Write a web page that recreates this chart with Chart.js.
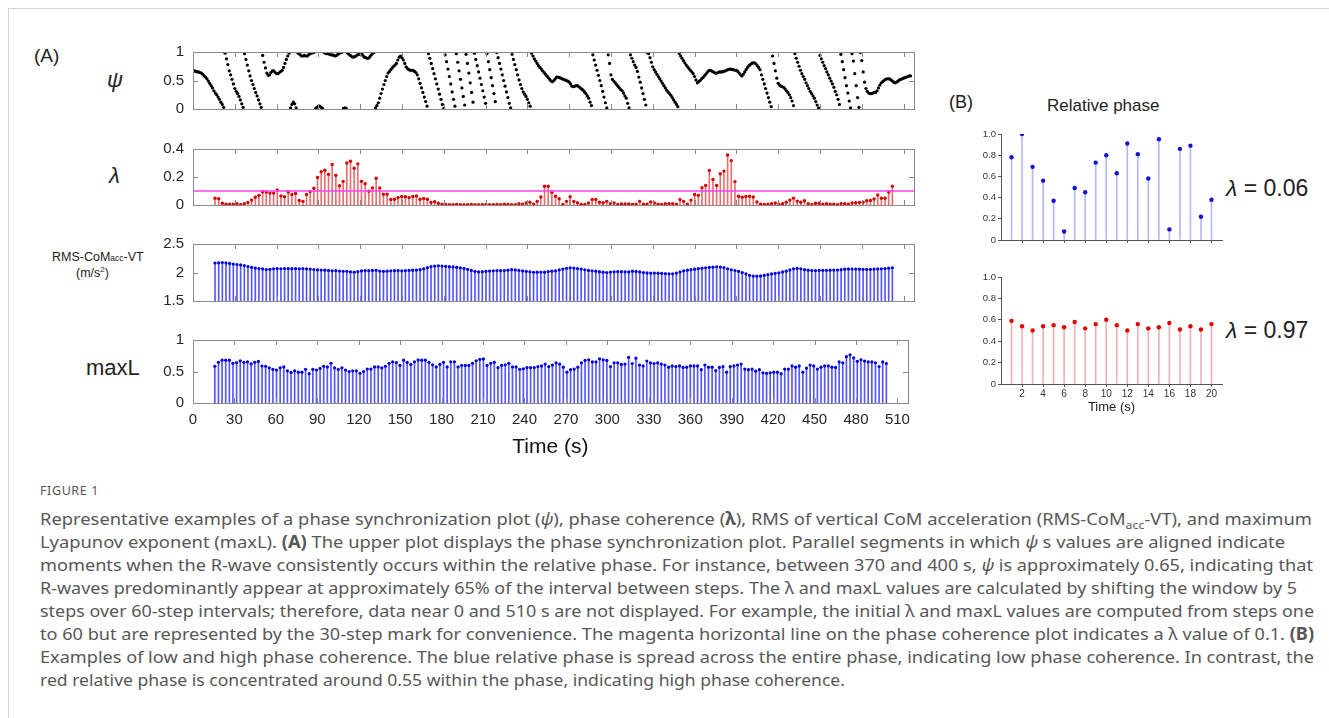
<!DOCTYPE html>
<html>
<head>
<meta charset="utf-8">
<script src="https://cdn.jsdelivr.net/npm/chart.js@4.4.1/dist/chart.umd.min.js"></script>
<style>
  html, body { margin: 0; padding: 0; background: #fff; }
  body { width: 1329px; height: 718px; position: relative; overflow: hidden;
         font-family: "Liberation Sans", Arial, sans-serif; color: #222; }
  .frame { position: absolute; left: 8px; top: 8px; right: -2px; bottom: -2px;
           border-left: 1px solid #d6d6d6; border-top: 1px solid #d6d6d6; }
  canvas { position: absolute; }
  .lbl { position: absolute; white-space: nowrap; line-height: 1; }
  .cap-head { position: absolute; left: 40px; top: 482px; font: 12.5px "Noto Sans", sans-serif;
              letter-spacing: 0.6px; color: #555; }
  .cap { position: absolute; left: 40px; top: 507px; font: 17px/23px "Noto Sans", sans-serif;
         color: #575757; white-space: nowrap; }
  .cap .ln { width: max-content; height: 23px; transform-origin: 0 0; }
  .cap sub { font-size: 11.5px; line-height: 0; }
</style>
</head>
<body>
<div class="frame"></div>

<div class="lbl" style="left:34px;top:46px;font-size:19px;">(A)</div>
<div class="lbl" style="left:107px;top:69px;font-size:22px;font-style:italic;">ψ</div>
<div class="lbl" style="left:109px;top:165px;font-size:22px;font-style:italic;">λ</div>
<div class="lbl" style="left:52px;top:251px;font-size:12.5px;">RMS-CoM<span style="font-size:8.5px">acc</span>-VT</div>
<div class="lbl" style="left:76px;top:266px;font-size:12.5px;">(m/s<sup style="font-size:8px">2</sup>)</div>
<div class="lbl" style="left:86px;top:357px;font-size:22px;">maxL</div>

<div class="lbl" style="left:949px;top:93px;font-size:18px;">(B)</div>
<div class="lbl" style="left:1047px;top:97px;font-size:17px;">Relative phase</div>
<div class="lbl" style="left:1226px;top:177px;font-size:23px;"><i>λ</i> = 0.06</div>
<div class="lbl" style="left:1226px;top:319px;font-size:23px;"><i>λ</i> = 0.97</div>

<canvas id="cPsi" width="768" height="93" style="left:150px;top:34px;"></canvas>
<canvas id="cLam" width="768" height="92" style="left:150px;top:131px;"></canvas>
<canvas id="cRms" width="768" height="93" style="left:150px;top:226px;"></canvas>
<canvas id="cMax" width="768" height="138" style="left:150px;top:322px;"></canvas>
<canvas id="cLow" width="257" height="130" style="left:971px;top:124px;"></canvas>
<canvas id="cHigh" width="257" height="148" style="left:971px;top:267px;"></canvas>

<div class="cap-head">FIGURE 1</div>
<div class="cap">
<div class="ln" data-w="1272">Representative examples of a phase synchronization plot (<i>ψ</i>), phase coherence (<b>λ</b>), RMS of vertical CoM acceleration (RMS-CoM<sub>acc</sub>-VT), and maximum</div>
<div class="ln" data-w="1245">Lyapunov exponent (maxL). <b>(A)</b> The upper plot displays the phase synchronization plot. Parallel segments in which <i>ψ</i> s values are aligned indicate</div>
<div class="ln" data-w="1273">moments when the R-wave consistently occurs within the relative phase. For instance, between 370 and 400 s, <i>ψ</i> is approximately 0.65, indicating that</div>
<div class="ln" data-w="1257">R-waves predominantly appear at approximately 65% of the interval between steps. The λ and maxL values are calculated by shifting the window by 5</div>
<div class="ln" data-w="1274">steps over 60-step intervals; therefore, data near 0 and 510 s are not displayed. For example, the initial λ and maxL values are computed from steps one</div>
<div class="ln" data-w="1274">to 60 but are represented by the 30-step mark for convenience. The magenta horizontal line on the phase coherence plot indicates a λ value of 0.1. <b>(B)</b></div>
<div class="ln" data-w="1274">Examples of low and high phase coherence. The blue relative phase is spread across the entire phase, indicating low phase coherence. In contrast, the</div>
<div class="ln" data-w="805">red relative phase is concentrated around 0.55 within the phase, indicating high phase coherence.</div>
</div>

<script>
// ---- axis ticks ----
const A_XTICKS = [0, 30, 60, 90, 120, 150, 180, 210, 240, 270, 300, 330, 360, 390, 420, 450, 480, 510];
const A_XMAX = 517.5;
const PSI_YTICKS = [0, 0.5, 1];
const LAM_YTICKS = [0, 0.2, 0.4];
const RMS_YTICKS = [1.5, 2, 2.5];
const MAXL_YTICKS = [0, 0.5, 1];
const B_YTICKS = [0, 0.2, 0.4, 0.6, 0.8, 1.0];
const B_XTICKS = [2, 4, 6, 8, 10, 12, 14, 16, 18, 20];
const LAMBDA_LIMIT = 0.1;

// ---- (A) phase synchronization, one value per second from t = 0 s ----
const PSI = [
  0.68,0.67,0.66,0.65,0.65,0.64,0.63,0.61,0.58,0.56,0.53,0.49,0.45,0.41,0.37,0.32,0.28,0.25,0.21,0.17,0.12,0.08,0.03,
  0.98,0.88,0.78,0.67,0.60,0.52,0.44,0.36,0.31,0.27,0.22,0.16,0.09,0.03,
  0.97,0.87,0.77,0.67,0.58,0.50,0.43,0.36,0.29,0.23,0.16,0.09,0.03,
  0.94,0.82,0.72,0.63,0.59,0.60,0.64,0.67,0.67,0.64,0.62,0.62,0.64,0.66,0.68,0.73,0.80,0.87,0.93,0.98,
  0.02,0.08,0.12,0.09,0.02,
  0.99,0.97,0.95,0.93,0.93,0.94,0.93,0.93,0.95,0.97,0.98,0.99,0.995,
  0.01,0.03,0.05,0.05,0.03,0.01,
  0.99,0.98,0.97,0.97,0.96,0.95,0.95,0.94,0.93,0.94,0.96,0.98,0.99,0.995,
  0.01,0.02,0.01,
  0.98,0.96,0.94,0.92,0.91,0.92,0.93,0.95,0.96,0.97,0.97,0.94,0.91,0.90,0.89,0.89,0.92,0.95,0.98,0.995,
  0.02,0.06,0.11,0.19,0.27,0.35,0.43,0.50,0.57,0.63,0.66,0.69,0.72,0.75,0.77,0.80,0.86,0.91,0.93,0.90,
  0.86,0.80,0.74,0.71,0.69,0.68,0.68,0.68,0.66,0.64,0.60,0.53,0.45,0.37,0.29,0.21,0.13,0.05,
  0.97,0.89,0.80,0.71,0.62,0.53,0.44,0.35,0.26,0.17,0.08,0.01,
  0.95,0.83,0.70,0.57,0.44,0.30,0.17,0.05,
  0.97,0.82,0.67,0.52,0.37,0.22,0.07,
  0.96,0.80,0.63,0.46,0.29,0.12,
  0.98,0.87,0.76,0.65,0.54,0.43,0.32,0.21,0.10,
  0.97,0.83,0.69,0.55,0.41,0.27,0.13,
  0.99,0.90,0.80,0.70,0.60,0.50,0.40,0.30,0.20,0.10,0.02,
  0.96,0.87,0.78,0.69,0.60,0.51,0.43,0.36,0.30,0.26,0.22,0.17,0.11,0.05,
  0.98,0.93,0.88,0.84,0.80,0.76,0.73,0.70,0.67,0.64,0.61,0.58,0.55,0.52,0.49,0.48,0.50,0.53,0.56,0.56,0.55,0.54,
  0.53,0.52,0.51,0.50,0.49,0.47,0.44,0.40,0.39,0.40,0.41,0.41,0.39,0.37,0.35,0.33,0.30,0.27,0.23,0.19,0.12,0.06,
  0.95,0.86,0.77,0.68,0.59,0.50,0.41,0.31,0.21,0.11,0.02,
  0.95,0.80,0.60,0.52,0.49,0.46,0.43,0.40,0.37,0.34,0.32,0.28,0.23,0.19,0.10,0.02,
  0.95,0.89,0.83,0.77,0.73,0.66,0.56,0.47,0.37,0.27,0.17,0.07,
  0.99,0.97,0.90,0.82,0.74,0.69,0.65,0.61,0.57,0.53,0.49,0.45,0.41,0.37,0.33,0.30,0.27,0.24,0.20,0.16,0.12,0.08,0.04,
  0.97,0.93,0.89,0.85,0.81,0.77,0.74,0.71,0.68,0.65,0.62,0.57,0.51,0.46,0.48,0.50,0.53,0.55,0.58,0.61,
  0.64,0.67,0.68,0.67,0.66,0.64,0.63,0.63,0.64,0.65,0.65,0.65,0.66,0.67,0.68,0.69,0.70,0.70,0.69,0.69,
  0.68,0.68,0.66,0.63,0.60,0.58,0.61,0.65,0.69,0.73,0.76,0.78,0.80,0.81,0.81,0.79,0.76,0.73,0.69,0.60,
  0.52,0.44,0.36,0.28,0.20,0.12,0.04,
  0.93,0.80,0.67,0.54,0.45,0.42,0.40,0.39,0.38,0.35,0.32,0.29,0.25,0.20,0.14,0.06,
  0.97,0.89,0.82,0.75,0.68,0.62,0.57,0.52,0.46,0.41,0.36,0.31,0.27,0.23,0.19,0.13,0.07,0.02,
  0.94,0.88,0.82,0.76,0.71,0.65,0.60,0.54,0.49,0.44,0.38,0.31,0.25,0.17,0.08,
  0.96,0.83,0.69,0.55,0.41,0.28,0.14,0.02,
  0.97,0.84,0.62,0.41,0.20,0.03,
  0.99,0.85,0.65,0.47,0.36,0.31,0.28,0.27,0.27,0.28,0.29,0.29,0.32,0.37,0.42,0.46,0.48,0.50,0.52,0.53,
  0.53,0.53,0.51,0.49,0.47,0.46,0.47,0.49,0.51,0.52,0.53,0.54,0.55,0.56,0.57,0.58,0.58
];

// ---- windowed measures: 60-step windows shifted by 5 steps ----
const WINDOW_START = 15.8;   // s, centre of the first window
const WINDOW_SHIFT = 2.628;  // s between windows

const LAMBDA = [
  .049,.045,.012,.006,.006,.006,.010,.003,.010,.018,.035,.055,.069,.095,.093,.085,.085,.108,.065,.059,
  .093,.075,.083,.033,.026,.075,.097,.120,.197,.238,.248,.219,.290,.213,.138,.169,.300,.313,.262,.294,
  .169,.152,.099,.122,.191,.122,.077,.077,.039,.041,.053,.061,.059,.053,.061,.065,.041,.047,.041,.018,
  .024,.012,.006,.004,.002,.003,.004,.002,.003,.002,.004,.003,.002,.003,.004,.002,.003,.004,.003,.005,
  .004,.002,.003,.010,.006,.014,.020,.006,.026,.057,.134,.134,.091,.063,.045,.004,.026,.059,.026,.016,
  .004,.004,.014,.039,.039,.020,.016,.026,.010,.014,.004,.008,.008,.008,.004,.006,.026,.006,.006,.022,
  .014,.006,.004,.010,.010,.010,.006,.039,.026,.006,.035,.075,.069,.124,.140,.246,.183,.140,.223,.242,
  .357,.317,.167,.063,.055,.061,.063,.057,.022,.006,.004,.006,.010,.014,.006,.010,.020,.035,.049,.028,
  .020,.030,.010,.002,.012,.012,.006,.010,.006,.006,.002,.010,.010,.006,.014,.016,.018,.020,.030,.032,
  .043,.071,.049,.049,.093,.134
];

const RMS = [
  2.167,2.170,2.175,2.168,2.160,2.148,2.140,2.133,2.122,2.105,2.090,2.078,2.070,2.062,2.052,2.056,2.066,2.068,2.066,2.068,
  2.069,2.067,2.069,2.066,2.068,2.064,2.060,2.052,2.045,2.043,2.040,2.036,2.030,2.032,2.026,2.022,2.020,2.012,2.006,2.016,
  2.028,2.034,2.032,2.036,2.038,2.026,2.020,2.024,2.030,2.032,2.033,2.030,2.034,2.036,2.040,2.042,2.050,2.065,2.085,2.104,
  2.112,2.118,2.114,2.108,2.102,2.098,2.090,2.082,2.072,2.055,2.036,2.020,2.010,2.014,2.020,2.026,2.030,2.034,2.032,2.035,
  2.040,2.050,2.046,2.036,2.028,2.020,2.012,2.004,2.005,2.008,2.006,2.016,2.024,2.030,2.045,2.060,2.075,2.083,2.078,2.070,
  2.060,2.048,2.036,2.030,2.024,2.014,2.006,2.000,2.008,2.012,2.014,2.015,2.012,2.010,2.024,2.018,2.010,1.998,1.992,1.990,
  1.990,1.988,1.985,1.980,1.977,1.976,1.990,2.010,2.030,2.040,2.049,2.058,2.068,2.076,2.083,2.090,2.094,2.100,2.096,2.085,
  2.066,2.048,2.035,2.020,2.000,1.976,1.950,1.937,1.936,1.940,1.948,1.962,1.975,1.986,1.995,2.010,2.024,2.045,2.065,2.073,
  2.066,2.050,2.040,2.035,2.034,2.036,2.038,2.039,2.040,2.042,2.044,2.050,2.058,2.063,2.061,2.060,2.059,2.056,2.054,2.056,
  2.060,2.063,2.066,2.070,2.076,2.083
];

const MAXL = [
  .583,.646,.680,.680,.680,.631,.641,.670,.646,.655,.621,.646,.660,.587,.583,.558,.534,.524,.558,.573,
  .510,.485,.510,.490,.490,.534,.466,.534,.524,.549,.583,.573,.631,.558,.534,.558,.524,.500,.510,.510,
  .471,.500,.539,.539,.573,.573,.558,.583,.631,.655,.641,.597,.680,.646,.612,.655,.684,.680,.680,.646,
  .607,.573,.612,.646,.573,.655,.655,.573,.597,.597,.597,.631,.670,.694,.699,.597,.631,.646,.563,.597,
  .607,.631,.573,.573,.534,.544,.563,.563,.563,
  .578,.588,.618,.578,.603,.637,.618,.569,.490,.529,.539,.569,.637,.676,.686,.652,.652,.701,.686,.676,
  .578,.637,.637,.613,.618,.725,.627,.711,.603,.588,.667,.637,.627,.637,.618,.603,.569,.588,.578,.588,
  .564,.569,.588,.588,.588,.529,.603,.569,.569,.515,.564,.578,.490,.578,.588,.603,.618,.539,.529,.539,
  .505,.529,.480,.471,.480,.490,.490,.466,.539,.539,.588,.569,.588,.490,.554,.603,.588,.539,.569,.588,
  .588,.569,.564,.652,.637,.735,.765,.716,.662,.686,.667,.652,.652,.637,.578,.652,.627
];

// ---- (B) relative phase examples ----
const B_TIME = [1, 2, 3, 4, 5, 6, 7, 8, 9, 10, 11, 12, 13, 14, 15, 16, 17, 18, 19, 20];
const PHASE_LOW = [0.78, 1.00, 0.69, 0.56, 0.37, 0.08, 0.49, 0.45, 0.73, 0.80, 0.63, 0.91, 0.81, 0.58, 0.95, 0.10, 0.86, 0.89, 0.22, 0.38];
const PHASE_HIGH = [0.59, 0.54, 0.50, 0.54, 0.55, 0.53, 0.58, 0.52, 0.56, 0.60, 0.55, 0.50, 0.56, 0.52, 0.53, 0.57, 0.51, 0.54, 0.51, 0.56];

const FONT = '"Liberation Sans", Arial, sans-serif';
const TXT = '#262626';

const windowTimes = LAMBDA.map((_, i) => WINDOW_START + i * WINDOW_SHIFT);
const pts = (xs, ys) => ys.map((y, i) => ({ x: xs[i], y }));
const setTicks = vals => s => { s.ticks = vals.map(v => ({ value: v })); };

// matlab-style box with inward ticks
const boxPlugin = {
  id: 'box',
  afterDatasetsDraw(chart) {
    const { ctx, chartArea: a, scales: { x, y } } = chart;
    ctx.save();
    ctx.strokeStyle = '#8a8a8a';
    ctx.lineWidth = 1;
    ctx.strokeRect(Math.round(a.left) + 0.5, Math.round(a.top) + 0.5,
                   Math.round(a.right - a.left), Math.round(a.bottom - a.top));
    ctx.beginPath();
    x.ticks.forEach(t => {
      const px = Math.round(x.getPixelForValue(t.value)) + 0.5;
      ctx.moveTo(px, a.bottom); ctx.lineTo(px, a.bottom - 5);
      ctx.moveTo(px, a.top); ctx.lineTo(px, a.top + 5);
    });
    y.ticks.forEach(t => {
      const py = Math.round(y.getPixelForValue(t.value)) + 0.5;
      ctx.moveTo(a.left, py); ctx.lineTo(a.left + 5, py);
      ctx.moveTo(a.right, py); ctx.lineTo(a.right - 5, py);
    });
    ctx.stroke();
    ctx.restore();
  }
};

function panelA(id, yMin, yMax, yTicks, datasets, showX) {
  return new Chart(document.getElementById(id), {
    type: 'bar',
    data: { datasets },
    options: {
      responsive: false,
      animation: false,
      layout: { padding: { top: 12, right: 3, left: 0, bottom: 0 } },
      plugins: { legend: { display: false }, tooltip: { enabled: false } },
      scales: {
        x: {
          type: 'linear', min: 0, max: A_XMAX, offset: false,
          grid: { display: false, drawTicks: false },
          border: { display: false },
          afterBuildTicks: setTicks(A_XTICKS),
          afterFit: s => { s.height = showX ? 57 : 12; },
          ticks: { display: showX, padding: 8, autoSkip: false, maxRotation: 0,
                   font: { family: FONT, size: 15 }, color: TXT, callback: v => String(v) },
          title: { display: showX, text: 'Time (s)', color: '#111',
                   font: { family: FONT, size: 21 }, padding: 0 }
        },
        y: {
          min: yMin, max: yMax,
          grid: { display: false, drawTicks: false },
          border: { display: false },
          afterBuildTicks: setTicks(yTicks),
          afterFit: s => { s.width = 43; },
          ticks: { padding: 9, font: { family: FONT, size: 15 }, color: TXT, callback: v => String(v) }
        }
      }
    },
    plugins: [boxPlugin]
  });
}

function stems(xs, ys, stemColor, dotColor, radius) {
  return [
    { type: 'bar', data: pts(xs, ys), backgroundColor: stemColor, barThickness: 1, order: 2 },
    { type: 'scatter', data: pts(xs, ys), backgroundColor: dotColor, borderWidth: 0,
      pointRadius: radius, order: 1 }
  ];
}

panelA('cPsi', 0, 1, PSI_YTICKS, [
  { type: 'scatter', data: PSI.map((v, t) => ({ x: t, y: v })), backgroundColor: '#000',
    borderWidth: 0, pointRadius: 1.6 }
], false);

panelA('cLam', 0, 0.4, LAM_YTICKS, [
  ...stems(windowTimes, LAMBDA, 'rgba(222,50,50,0.7)', '#d40000', 1.7),
  { type: 'line', data: [{ x: 0, y: LAMBDA_LIMIT }, { x: A_XMAX, y: LAMBDA_LIMIT }],
    borderColor: '#ff3dff', borderWidth: 1.5, pointRadius: 0, order: 0 }
], false);

panelA('cRms', 1.5, 2.5, RMS_YTICKS,
  stems(windowTimes, RMS, 'rgba(30,30,255,0.75)', '#0000dd', 1.6), false);

panelA('cMax', 0, 1, MAXL_YTICKS,
  stems(windowTimes, MAXL, 'rgba(30,30,255,0.75)', '#0000dd', 1.6), true);

function panelB(id, values, stemColor, dotColor, showX) {
  return new Chart(document.getElementById(id), {
    type: 'bar',
    data: { datasets: stems(B_TIME, values, stemColor, dotColor, 2.2) },
    options: {
      responsive: false,
      animation: false,
      layout: { padding: { top: 10, right: 6, left: 0, bottom: 0 } },
      plugins: { legend: { display: false }, tooltip: { enabled: false } },
      scales: {
        x: {
          type: 'linear', min: 0, max: 21, offset: false,
          grid: { drawOnChartArea: false, offset: false, tickLength: 3, color: '#555' },
          border: { color: '#555' },
          afterBuildTicks: setTicks(B_XTICKS),
          afterFit: s => { s.height = showX ? 31 : 14; },
          ticks: { display: showX, padding: 1, autoSkip: false, maxRotation: 0,
                   font: { family: FONT, size: 10 }, color: '#333' },
          title: { display: showX, text: 'Time (s)', color: '#222',
                   font: { family: FONT, size: 13 }, padding: 0 }
        },
        y: {
          min: 0, max: 1,
          grid: { drawOnChartArea: false, tickLength: 3, color: '#555' },
          border: { color: '#555' },
          afterBuildTicks: setTicks(B_YTICKS),
          afterFit: s => { s.width = 30; },
          ticks: { padding: 2, font: { family: FONT, size: 9.5 }, color: '#333',
                   callback: v => v === 0 ? '0' : v.toFixed(1) }
        }
      }
    }
  });
}

panelB('cLow', PHASE_LOW, '#b4b8f4', '#1212d2', false);
panelB('cHigh', PHASE_HIGH, '#f4b0b0', '#e00000', true);

// fit each caption line to the width it has in the printed figure
document.querySelectorAll('.cap .ln').forEach(el => {
  const w = el.getBoundingClientRect().width;
  el.style.transform = `scaleX(${(+el.dataset.w / w).toFixed(4)})`;
});
</script>
</body>
</html>
